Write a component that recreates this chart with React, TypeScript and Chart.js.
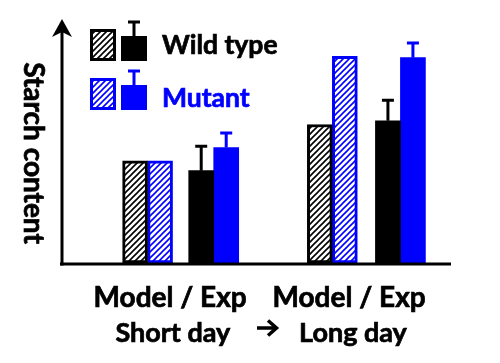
import React, { useEffect, useRef } from "react";
import { Chart, registerables } from "chart.js";
Chart.register(...registerables);

// ---- data ----
const groupLabels = ["Short day", "Long day"];
const subLabel = "Model / Exp";
const slotX = [2.2, 3.9, 6.95, 8.7]; // Model, Exp (short) / Model, Exp (long)
const labelX = [2.78, 7.38];
const groupLabelX = [2.85, 7.48];
const isModel = [true, false, true, false];
const wildType = [4.2, 3.8, 5.7, 5.85];
const wildTypeErr = [0, 1.0, 0, 0.85];
const mutant = [4.2, 4.75, 8.5, 8.45];
const mutantErr = [0, 0.6, 0, 0.6];
const legendLabels = ["Wild type", "Mutant"];
const yTitle = "Starch content";

const BLUE = "#0000ff";
const FONT = "Lato, 'Open Sans', sans-serif";

function makeHatch(ctx: CanvasRenderingContext2D, color: string) {
  const c = document.createElement("canvas");
  c.width = 6;
  c.height = 6;
  const g = c.getContext("2d")!;
  g.fillStyle = "#ffffff";
  g.fillRect(0, 0, 6, 6);
  g.strokeStyle = color;
  g.lineWidth = 1.6;
  g.beginPath();
  g.moveTo(0, 6);
  g.lineTo(6, 0);
  g.moveTo(-1, 1);
  g.lineTo(1, -1);
  g.moveTo(5, 7);
  g.lineTo(7, 5);
  g.stroke();
  return ctx.createPattern(c, "repeat")!;
}

function boldText(c: CanvasRenderingContext2D, s: string, x: number, y: number) {
  c.fillText(s, x, y);
  c.lineWidth = 0.7;
  c.strokeStyle = c.fillStyle as string;
  c.strokeText(s, x, y);
}

export default function App() {
  const ref = useRef<HTMLCanvasElement>(null);
  useEffect(() => {
    const canvas = ref.current!;
    const ctx = canvas.getContext("2d")!;
    const hatchBlack = makeHatch(ctx, "#000000");
    const hatchBlue = makeHatch(ctx, BLUE);

    const errors = [wildTypeErr, mutantErr];

    const overlay = {
      id: "overlay",
      afterDatasetsDraw(chart: any) {
        const c: CanvasRenderingContext2D = chart.ctx;
        const xs = chart.scales.x;
        const ys = chart.scales.y;
        const area = chart.chartArea;
        c.save();
        // error bars
        chart.data.datasets.forEach((ds: any, i: number) => {
          const meta = chart.getDatasetMeta(i);
          meta.data.forEach((el: any, j: number) => {
            const e = errors[i][j];
            if (!e) return;
            const v = ds.data[j].y;
            const yTop = ys.getPixelForValue(v + e);
            c.strokeStyle = i === 0 ? "#000" : BLUE;
            c.lineWidth = 3;
            c.beginPath();
            c.moveTo(el.x, el.y);
            c.lineTo(el.x, yTop);
            c.moveTo(el.x - 6, yTop);
            c.lineTo(el.x + 6, yTop);
            c.stroke();
          });
        });
        // axes
        const x0 = xs.getPixelForValue(0);
        const y0 = ys.getPixelForValue(0);
        c.strokeStyle = "#000";
        c.fillStyle = "#000";
        c.lineWidth = 3;
        c.beginPath();
        c.moveTo(x0 - 2, y0 + 1);
        c.lineTo(area.right, y0 + 1);
        c.stroke();
        c.beginPath();
        c.moveTo(x0, y0 + 2.5);
        c.lineTo(x0, area.top + 8);
        c.stroke();
        c.beginPath();
        c.moveTo(x0, area.top - 1);
        c.lineTo(x0 - 10, area.top + 17);
        c.lineTo(x0, area.top + 12);
        c.lineTo(x0 + 10, area.top + 17);
        c.closePath();
        c.fill();

        // y title (rotated clockwise)
        c.save();
        c.translate(33, 153);
        c.rotate(Math.PI / 2);
        c.font = `bold 28px ${FONT}`;
        c.textAlign = "center";
        c.textBaseline = "middle";
        c.fillStyle = "#000";
        boldText(c, yTitle, 0, 0);
        c.restore();

        // x labels
        c.textAlign = "center";
        c.textBaseline = "alphabetic";
        c.fillStyle = "#000";
        labelX.forEach((lx, k) => {
          c.font = `bold 28px ${FONT}`;
          boldText(c, subLabel, xs.getPixelForValue(lx), 307);
          c.font = `bold 27px ${FONT}`;
          boldText(c, groupLabels[k], xs.getPixelForValue(groupLabelX[k]), 342);
        });
        // arrow between the two groups
        c.strokeStyle = "#000";
        c.lineWidth = 3.5;
        c.lineJoin = "miter";
        c.beginPath();
        c.moveTo(257, 328);
        c.lineTo(275, 328);
        c.moveTo(268, 320.5);
        c.lineTo(276.5, 328);
        c.lineTo(268, 335.5);
        c.stroke();

        // legend
        const rows = [
          { label: legendLabels[0], color: "#000", hatch: hatchBlack, hy: 29, sy: 36, ey: 22, ty: 54 },
          { label: legendLabels[1], color: BLUE, hatch: hatchBlue, hy: 78, sy: 85, ey: 71, ty: 107 },
        ];
        rows.forEach((r) => {
          c.fillStyle = r.color;
          c.fillRect(90, r.hy, 26, 32);
          c.fillStyle = r.hatch;
          c.fillRect(93, r.hy + 3, 20, 26);
          c.fillStyle = r.color;
          c.fillRect(121, r.sy, 26, 61 - 36);
          c.strokeStyle = r.color;
          c.lineWidth = 3;
          c.beginPath();
          c.moveTo(134, r.sy);
          c.lineTo(134, r.ey);
          c.moveTo(128, r.ey);
          c.lineTo(140, r.ey);
          c.stroke();
          c.font = `bold 26.5px ${FONT}`;
          c.textAlign = "left";
          c.textBaseline = "alphabetic";
          c.fillStyle = r.color;
          boldText(c, r.label, 162, r.ty);
        });
        c.restore();
      },
    };

    const chart = new Chart(canvas, {
      type: "bar",
      data: {
        datasets: [
          {
            label: legendLabels[0],
            data: slotX.map((x, i) => ({ x, y: wildType[i] })),
            backgroundColor: isModel.map((m) => (m ? hatchBlack : "#000000")),
            borderColor: "#000000",
            borderWidth: isModel.map((m) => (m ? 3 : 0)),
            borderSkipped: false,
          },
          {
            label: legendLabels[1],
            data: slotX.map((x, i) => ({ x, y: mutant[i] })),
            backgroundColor: isModel.map((m) => (m ? hatchBlue : BLUE)),
            borderColor: BLUE,
            borderWidth: isModel.map((m) => (m ? 3 : 0)),
            borderSkipped: false,
          },
        ],
      },
      options: {
        animation: false,
        responsive: true,
        maintainAspectRatio: false,
        barThickness: 25,
        layout: { padding: { left: 62, top: 20, right: 49, bottom: 100 } },
        plugins: { legend: { display: false }, tooltip: { enabled: false } },
        scales: {
          x: { type: "linear", min: 0, max: 10, offset: false, display: false },
          y: { min: 0, max: 10, display: false },
        },
      } as any,
      plugins: [overlay],
    });
    return () => chart.destroy();
  }, []);

  return (
    <div style={{ position: "fixed", left: 0, top: 0, width: 500, height: 363, background: "#fff" }}>
      <canvas ref={ref} />
    </div>
  );
}
